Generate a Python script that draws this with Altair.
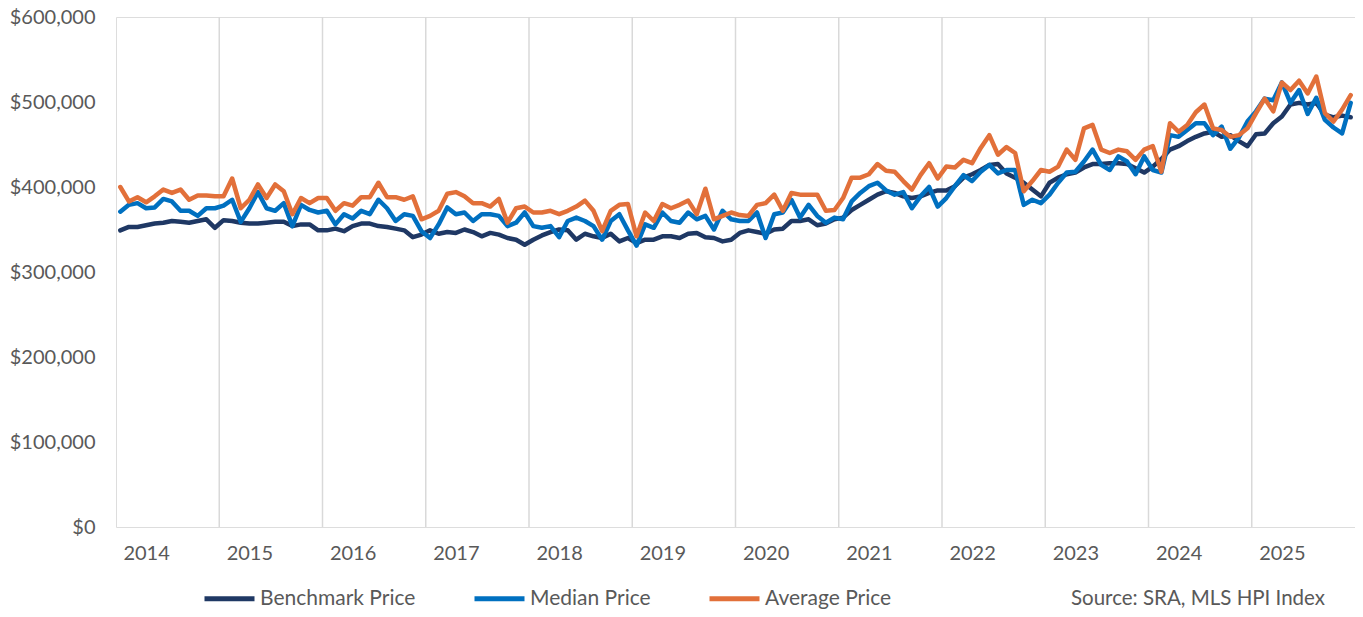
import altair as alt
import pandas as pd

# Monthly data, Oct 2013 - Sep 2025 (values in $ thousands)
start_year, start_month = 2013, 10
years = [2014, 2015, 2016, 2017, 2018, 2019, 2020, 2021, 2022, 2023, 2024, 2025]
series_names = ["Benchmark Price", "Median Price", "Average Price"]
series_colors = ["#1F3864", "#0070C0", "#E2703A"]
y_ticks = [0, 100000, 200000, 300000, 400000, 500000, 600000]
source_text = "Source: SRA, MLS HPI Index"

benchmark = [
    349, 353, 353, 355, 357, 358, 360, 359, 358, 360, 362, 352,
    361, 360, 358, 357, 357, 358, 359, 359, 354, 356, 356, 349,
    349, 351, 348, 354, 357, 357, 354, 353, 351, 349, 341, 344,
    349, 345, 347, 346, 350, 347, 342, 346, 344, 340, 338, 332,
    338, 343, 347, 350, 349, 338, 345, 342, 340, 345, 336, 340,
    334, 338, 338, 342, 342, 340, 345, 346, 341, 340, 336, 338,
    346, 349, 347, 345, 350, 351, 360, 360, 362, 355, 357, 362,
    364, 373, 379, 385, 391, 395, 393, 389, 387, 389, 393, 396,
    396, 401, 411, 415, 420, 426, 427, 416, 411, 405, 397, 389,
    405, 411, 415, 417, 423, 427, 427, 428, 428, 427, 422, 417,
    424, 433, 444, 448, 454, 459, 463, 465, 459, 461, 454, 448,
    462, 463, 475, 483, 497, 499, 497, 499, 485, 482, 484, 482,
]
median = [
    371, 379, 381, 375, 376, 386, 383, 372, 372, 366, 375, 375,
    378, 385, 359, 375, 394, 375, 372, 381, 354, 379, 373, 370,
    372, 356, 368, 363, 372, 368, 385, 375, 360, 368, 366, 348,
    340, 356, 376, 368, 370, 360, 368, 368, 366, 354, 358, 370,
    354, 352, 354, 341, 360, 364, 360, 354, 338, 360, 368, 349,
    331, 356, 352, 370, 360, 358, 370, 362, 366, 350, 372, 362,
    360, 360, 370, 340, 368, 370, 385, 364, 379, 366, 358, 364,
    362, 383, 393, 401, 405, 396, 391, 394, 375, 389, 400, 377,
    387, 401, 414, 407, 418, 426, 416, 420, 420, 379, 385, 381,
    391, 405, 417, 418, 430, 444, 426, 420, 436, 430, 415, 436,
    420, 417, 461, 459, 467, 475, 475, 461, 471, 445, 458, 477,
    489, 504, 502, 523, 499, 514, 486, 505, 479, 470, 463, 499,
]
average = [
    400, 383, 388, 382, 389, 397, 393, 397, 385, 390, 390, 389,
    389, 410, 375, 385, 403, 387, 403, 395, 368, 387, 381, 387,
    387, 372, 381, 378, 388, 388, 405, 388, 388, 385, 389, 362,
    366, 372, 392, 394, 389, 381, 381, 377, 386, 358, 375, 377,
    370, 370, 372, 368, 372, 377, 384, 372, 348, 372, 379, 380,
    342, 370, 360, 380, 375, 379, 384, 368, 398, 362, 366, 370,
    367, 366, 379, 381, 391, 372, 393, 391, 391, 391, 372, 373,
    387, 411, 411, 415, 427, 419, 418, 407, 397, 414, 428, 410,
    424, 423, 432, 428, 446, 461, 438, 447, 440, 395, 407, 420,
    418, 424, 444, 432, 469, 473, 444, 440, 444, 442, 432, 444,
    448, 418, 475, 465, 473, 488, 497, 469, 467, 459, 461, 469,
    487, 504, 489, 523, 514, 525, 510, 530, 487, 477, 491, 508,
]

n = len(benchmark)
rows = []
for name, vals in zip(series_names, [benchmark, median, average]):
    for i, v in enumerate(vals):
        m = start_month - 1 + i
        rows.append({
            "idx": i + 0.5,
            "month": f"{start_year + m // 12}-{m % 12 + 1:02d}",
            "series": name,
            "order": series_names.index(name),
            "value": v * 1000,
        })
df = pd.DataFrame(rows)

# year boundaries (category gridlines every 12 months) and January label positions
grid_df = pd.DataFrame({"b": list(range(12, n, 12))})
label_pos = [(y - start_year) * 12 - (start_month - 1) + 0.5 for y in years]
label_expr = f"'' + ({years[0]} + floor((datum.value - {label_pos[0]}) / 12 + 0.01))"

FONT = "Lato"
TXT = "#595959"
W, H = 1239, 510

xscale = alt.Scale(domain=[0, n], nice=False, zero=False)

grid = alt.Chart(grid_df).mark_rule(color="#D9D9D9", strokeWidth=1.5).encode(
    x=alt.X("b:Q", scale=xscale)
)

lines = alt.Chart(df).mark_line(strokeWidth=4.5, strokeJoin="round", strokeCap="round").encode(
    x=alt.X(
        "idx:Q",
        scale=xscale,
        axis=alt.Axis(
            values=label_pos, labelExpr=label_expr, grid=False, ticks=False, tickSize=0,
            domain=False, title=None, labelFont=FONT, labelFontSize=20, labelColor=TXT,
            labelPadding=16, labelFlush=False, labelOverlap=False,
        ),
    ),
    y=alt.Y(
        "value:Q",
        scale=alt.Scale(domain=[0, 600000], nice=False),
        axis=alt.Axis(
            values=y_ticks, format="$,.0f", grid=False, ticks=False, tickSize=0, domain=False,
            title=None, labelFont=FONT, labelFontSize=20, labelColor=TXT, labelPadding=21,
        ),
    ),
    color=alt.Color(
        "series:N",
        scale=alt.Scale(domain=series_names, range=series_colors),
        sort=series_names,
        legend=alt.Legend(
            title=None, orient="none", direction="horizontal", legendX=86, legendY=554,
            symbolType="stroke", symbolSize=2500, symbolStrokeWidth=5, labelFont=FONT,
            labelFontSize=21, labelColor=TXT, labelOffset=3, columnPadding=48, labelLimit=400,
        ),
    ),
    order=alt.Order("order:Q"),
    detail="series:N",
)

source = alt.Chart(pd.DataFrame({"t": [source_text]})).mark_text(
    align="right", baseline="middle", font=FONT, fontSize=20.5, color=TXT
).encode(text="t:N", x=alt.value(1209), y=alt.value(582))

chart = alt.layer(grid, lines, source).properties(
    width=W, height=H,
    autosize=alt.AutoSizeParams(type="none"),
    padding={"left": 108, "top": 9, "right": 0, "bottom": 82},
).configure_view(stroke="#BFBFBF", strokeWidth=1.5).configure(background="white")

chart.save("out.html", embed_options={"renderer": "svg", "actions": False})
